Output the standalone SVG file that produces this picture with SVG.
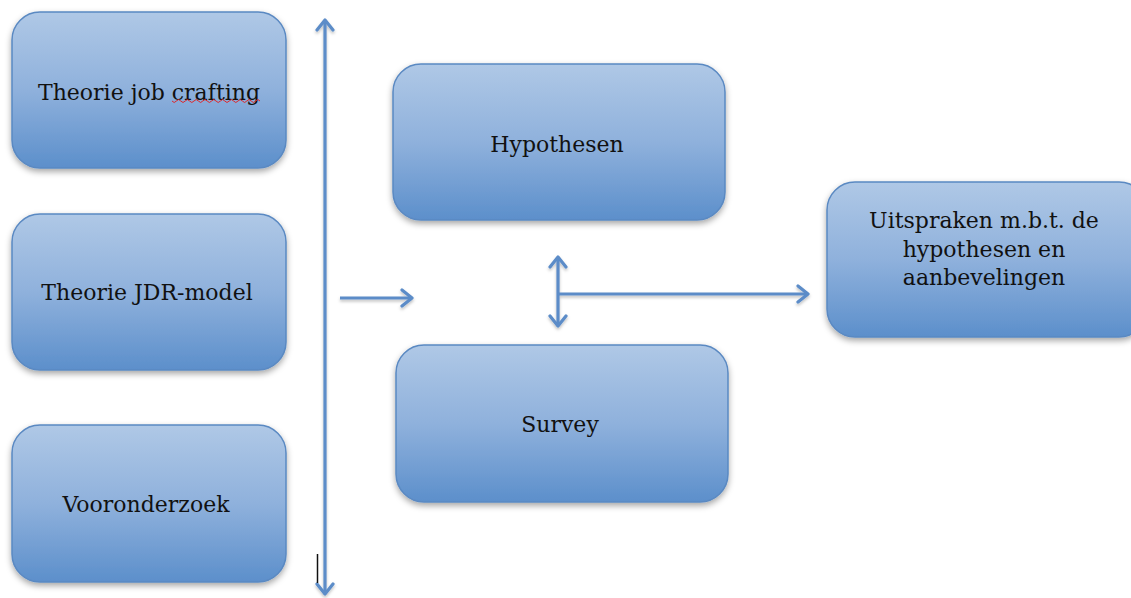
<svg xmlns="http://www.w3.org/2000/svg" width="1131" height="598" viewBox="0 0 1131 598">
<style>
.box{fill:url(#g);stroke:#5a89c2;stroke-width:1.5;filter:url(#sh)}
.lbl{font-family:"DejaVu Serif","Liberation Serif",serif;font-size:22px;fill:#111;text-anchor:middle}
.con{fill:none;stroke:#5b8cc8;stroke-width:3.2}
</style>
<defs>
<linearGradient id="g" x1="0" y1="0" x2="0" y2="1">
<stop offset="0" stop-color="#afc8e6"/>
<stop offset="0.5" stop-color="#8fb1dc"/>
<stop offset="1" stop-color="#5c8fcb"/>
</linearGradient>
<filter id="sh" x="-10%" y="-10%" width="120%" height="130%">
<feDropShadow dx="0" dy="3" stdDeviation="3" flood-color="#000" flood-opacity="0.35"/>
</filter>
<filter id="sh2" filterUnits="userSpaceOnUse" x="0" y="0" width="1131" height="598">
<feDropShadow dx="0" dy="2" stdDeviation="1.5" flood-color="#000" flood-opacity="0.25"/>
</filter>
<marker id="ah" markerUnits="userSpaceOnUse" markerWidth="24" markerHeight="24" viewBox="-12 -12 24 24" refX="0" refY="0" orient="auto-start-reverse">
<path d="M-10,-8 L0,0 L-10,8" fill="none" stroke="#5b8cc8" stroke-width="3.2" stroke-linecap="round" stroke-linejoin="round"/>
</marker>
</defs>
<rect width="1131" height="598" fill="#fff"/>
<g id="n1">
<rect class="box" x="12" y="12" width="274" height="156" rx="28"/>
<text class="lbl" x="149" y="100">Theorie job crafting</text>
<path d="M172,101 q2.2,3 4.4,0 t4.4,0 t4.4,0 t4.4,0 t4.4,0 t4.4,0 t4.4,0 t4.4,0 t4.4,0 t4.4,0 t4.4,0 t4.4,0 t4.4,0 t4.4,0 t4.4,0 t4.4,0 t4.4,0 t4.4,0 t4.4,0 t4.4,0" fill="none" stroke="#e0262a" stroke-width="1"/>
</g>
<g id="n2">
<rect class="box" x="12" y="214" width="274" height="156" rx="28"/>
<text class="lbl" x="147" y="300">Theorie JDR-model</text>
</g>
<g id="n3">
<rect class="box" x="12" y="425" width="274" height="157" rx="28"/>
<text class="lbl" x="146" y="512">Vooronderzoek</text>
</g>
<g id="n4">
<rect class="box" x="393" y="64" width="332" height="156" rx="28"/>
<text class="lbl" x="557" y="152">Hypothesen</text>
</g>
<g id="n5">
<rect class="box" x="396" y="345" width="332" height="157" rx="28"/>
<text class="lbl" x="560" y="432">Survey</text>
</g>
<g id="n6">
<rect class="box" x="827" y="182" width="320" height="155" rx="28"/>
<text class="lbl" x="984" y="228">Uitspraken m.b.t. de</text>
<text class="lbl" x="984" y="257">hypothesen en</text>
<text class="lbl" x="984" y="285">aanbevelingen</text>
</g>
<g id="connectors" filter="url(#sh2)">
<line class="con" x1="325" y1="20" x2="325" y2="594" marker-start="url(#ah)" marker-end="url(#ah)"/>
<line class="con" x1="340" y1="298" x2="412" y2="298" marker-end="url(#ah)"/>
<line class="con" x1="558" y1="257" x2="558" y2="326" marker-start="url(#ah)" marker-end="url(#ah)"/>
<line class="con" x1="558" y1="294" x2="808" y2="294" marker-end="url(#ah)"/>
</g>
<line x1="317.5" y1="554" x2="317.5" y2="583" stroke="#111" stroke-width="1.5"/>
</svg>
